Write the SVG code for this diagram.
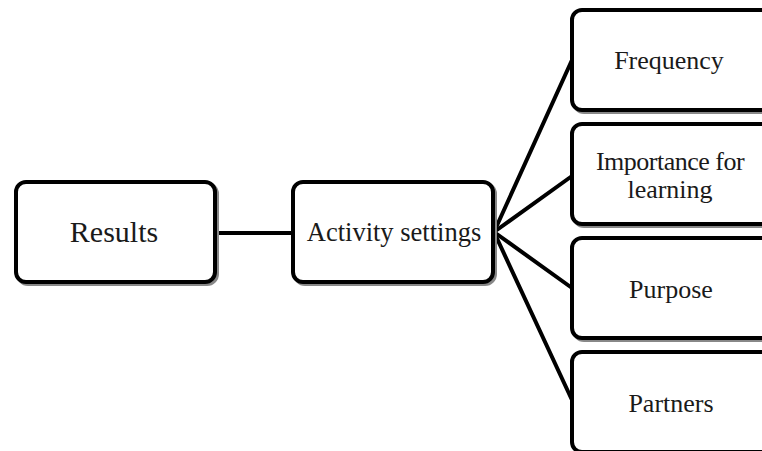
<svg xmlns="http://www.w3.org/2000/svg" width="762" height="451" viewBox="0 0 762 451">
<style>
.box{fill:#fff;stroke:#000;stroke-width:4}
.sh{fill:none;stroke:#888;stroke-width:4}
.t{fill:#1a1a1a;text-anchor:middle}
.c{stroke:#000;stroke-width:4;fill:none;stroke-linecap:round}
</style>
<rect width="762" height="451" fill="#fff"/>
<g id="connectors">
<line class="c" x1="215" y1="233" x2="293" y2="233"/>
<line class="c" x1="494" y1="232" x2="572" y2="60"/>
<line class="c" x1="494" y1="232" x2="572" y2="176"/>
<line class="c" x1="494" y1="232" x2="572" y2="288"/>
<line class="c" x1="494" y1="232" x2="572" y2="400"/>
</g>
<g font-family="'Liberation Serif', 'DejaVu Serif', serif">
<g id="results">
<rect class="sh" x="18" y="184" width="199" height="100" rx="10"/>
<rect class="box" x="16" y="182" width="199" height="100" rx="10"/>
<text class="t" x="114" y="242" font-size="30">Results</text>
</g>
<g id="activity">
<rect class="sh" x="295" y="184" width="200" height="100" rx="10"/>
<rect class="box" x="293" y="182" width="200" height="100" rx="10"/>
<text class="t" x="394" y="241" font-size="26.5">Activity settings</text>
</g>
<g id="frequency">
<rect class="sh" x="574" y="12" width="200" height="100" rx="10"/>
<rect class="box" x="572" y="10" width="200" height="100" rx="10"/>
<text class="t" x="669" y="69" font-size="26">Frequency</text>
</g>
<g id="importance">
<rect class="sh" x="574" y="126" width="200" height="100" rx="10"/>
<rect class="box" x="572" y="124" width="200" height="100" rx="10"/>
<text class="t" x="670" y="170" font-size="26" letter-spacing="-0.5">Importance for</text>
<text class="t" x="670" y="198" font-size="26">learning</text>
</g>
<g id="purpose">
<rect class="sh" x="574" y="240" width="200" height="100" rx="10"/>
<rect class="box" x="572" y="238" width="200" height="100" rx="10"/>
<text class="t" x="671" y="298" font-size="26">Purpose</text>
</g>
<g id="partners">
<rect class="sh" x="574" y="354" width="200" height="100" rx="10"/>
<rect class="box" x="572" y="352" width="200" height="100" rx="10"/>
<text class="t" x="671" y="412" font-size="26">Partners</text>
</g>
</g>
</svg>
